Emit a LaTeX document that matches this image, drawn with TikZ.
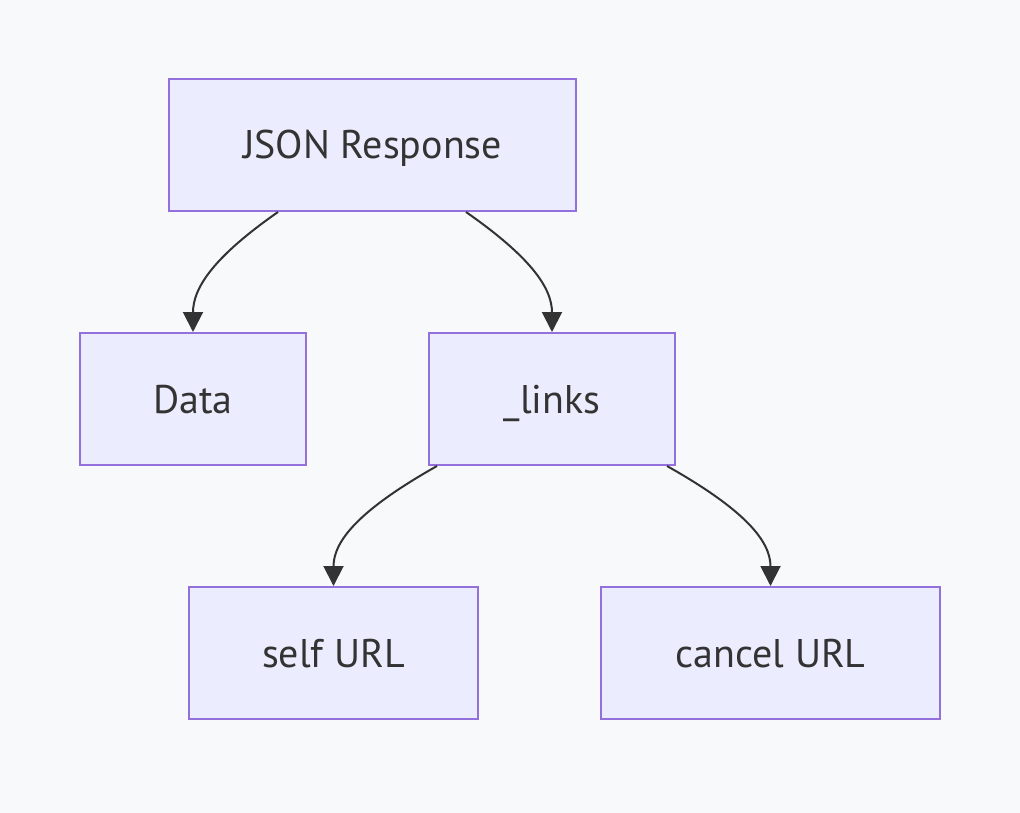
\documentclass[tikz,border=0pt]{standalone}
\usepackage{fontspec}
\setmainfont{PT Sans}
\usetikzlibrary{arrows.meta,calc}
\definecolor{bgc}{RGB}{248,249,250}
\definecolor{boxfill}{RGB}{236,236,255}
\definecolor{boxline}{RGB}{147,112,219}
\definecolor{txt}{RGB}{51,51,51}
\tikzset{
  box/.style={draw=boxline,fill=boxfill,line width=2pt,text=txt,inner sep=0pt,
    font=\fontsize{40}{48}\selectfont,minimum height=132pt,
    text height=32pt,text depth=4pt},
  arr/.style={draw=txt,line width=2pt,-{Triangle[width=20pt,length=20pt]}}
}
\begin{document}
\begin{tikzpicture}[x=1pt,y=1pt]
\fill[bgc] (0,0) rectangle (1020,-813);
\useasboundingbox (0,0) rectangle (1020,-813);
\node[box,minimum width=407pt] (json) at (372.5,-145) {JSON Response};
\node[box,minimum width=226pt] (data) at (193,-399) {Data};
\node[box,minimum width=246pt] (links) at (552,-399) {\_links};
\node[box,minimum width=289pt] (self) at (333.5,-653) {self URL};
\node[box,minimum width=339pt] (cancel) at (770.5,-653) {cancel URL};
\draw[arr] ($(json.south)+(-94.5,0)$) .. controls +(-63,-44) and +(0,45) .. (data.north);
\draw[arr] ($(json.south)+(93.5,0)$) .. controls +(63,-44) and +(0,45) .. (links.north);
\draw[arr] ($(links.south)+(-115,0)$) .. controls +(-78,-44) and +(0,45) .. (self.north);
\draw[arr] ($(links.south)+(115,0)$) .. controls +(78,-44) and +(0,45) .. (cancel.north);
\end{tikzpicture}
\end{document}
